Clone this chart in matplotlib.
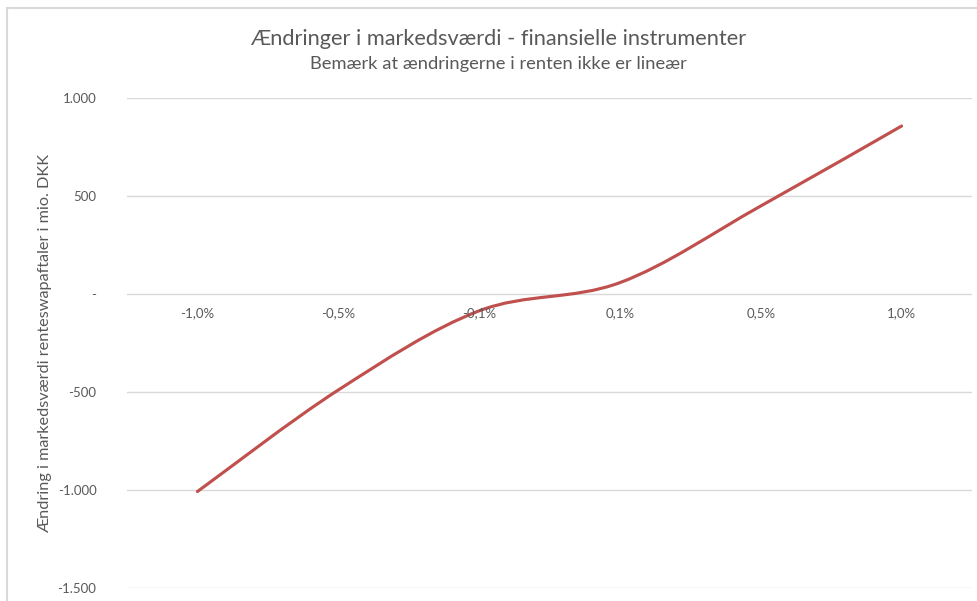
import numpy as np
import matplotlib
matplotlib.use('Agg')
import matplotlib.pyplot as plt
from matplotlib.path import Path
from matplotlib.patches import PathPatch, Rectangle

categories = ['-1,0%', '-0,5%', '-0,1%', '0,1%', '0,5%', '1,0%']
values = [-1008, -490, -86, 58, 449, 857]
yticks = [-1500, -1000, -500, 0, 500, 1000]
ytick_labels = ['-1.500', '-1.000', '-500', '-', '500', '1.000']

plt.rcParams['font.family'] = ['Lato', 'DejaVu Sans']
grey = '#595959'

W, H = 978, 601
fig = plt.figure(figsize=(W / 100, H / 100), dpi=100)
ax = fig.add_axes([127 / W, 1 - 588 / H, (972 - 127) / W, (588 - 98) / H])

# chart border, cut off by the picture edge like in the screenshot
fig.add_artist(Rectangle((7, -20), 1000, H - 8 + 20, transform=None,
                         fill=False, edgecolor='#d9d9d9', linewidth=1.5))

# smoothed line (Excel style bezier through the points)
x = np.arange(len(values))
y = np.array(values, dtype=float)
yp = np.concatenate([[y[0]], y, [y[-1]]])
xp = np.concatenate([[x[0]], x, [x[-1]]])
verts = [(x[0], y[0])]
codes = [Path.MOVETO]
for i in range(len(x) - 1):
    c1 = (x[i] + (xp[i + 2] - xp[i]) / 6, y[i] + (yp[i + 2] - yp[i]) / 6)
    c2 = (x[i + 1] - (xp[i + 3] - xp[i + 1]) / 6, y[i + 1] - (yp[i + 3] - yp[i + 1]) / 6)
    verts += [c1, c2, (x[i + 1], y[i + 1])]
    codes += [Path.CURVE4] * 3
ax.add_patch(PathPatch(Path(verts, codes), fill=False, edgecolor='#C0504D',
                       linewidth=2.25, capstyle='round', zorder=3))

ax.set_xlim(-0.5, len(values) - 0.5)
ax.set_ylim(-1500, 1000)
ax.set_yticks(yticks)
ax.set_yticklabels(ytick_labels)
ax.set_xticks([])
ax.grid(axis='y', color='#d9d9d9', linewidth=1)
ax.tick_params(axis='y', length=0, pad=22, labelsize=9.5, labelcolor=grey)
for s in ax.spines.values():
    s.set_visible(False)
ax.set_facecolor('none')

for i, lab in enumerate(categories):
    ax.annotate(lab, (i, 0), xytext=(0, -14), textcoords='offset points',
                ha='center', va='center', fontsize=9.5, color=grey)

ax.set_ylabel('Ændring i markedsværdi renteswapaftaler i mio. DKK', fontsize=11.7,
              color=grey, labelpad=4)

fig.text(498 / W, 1 - 39 / H, 'Ændringer i markedsværdi - finansielle instrumenter',
         ha='center', va='center', fontsize=15.7, color=grey)
fig.text(498 / W, 1 - 64 / H, 'Bemærk at ændringerne i renten ikke er lineær',
         ha='center', va='center', fontsize=13.2, color=grey)

fig.savefig('out.png', dpi=100)
